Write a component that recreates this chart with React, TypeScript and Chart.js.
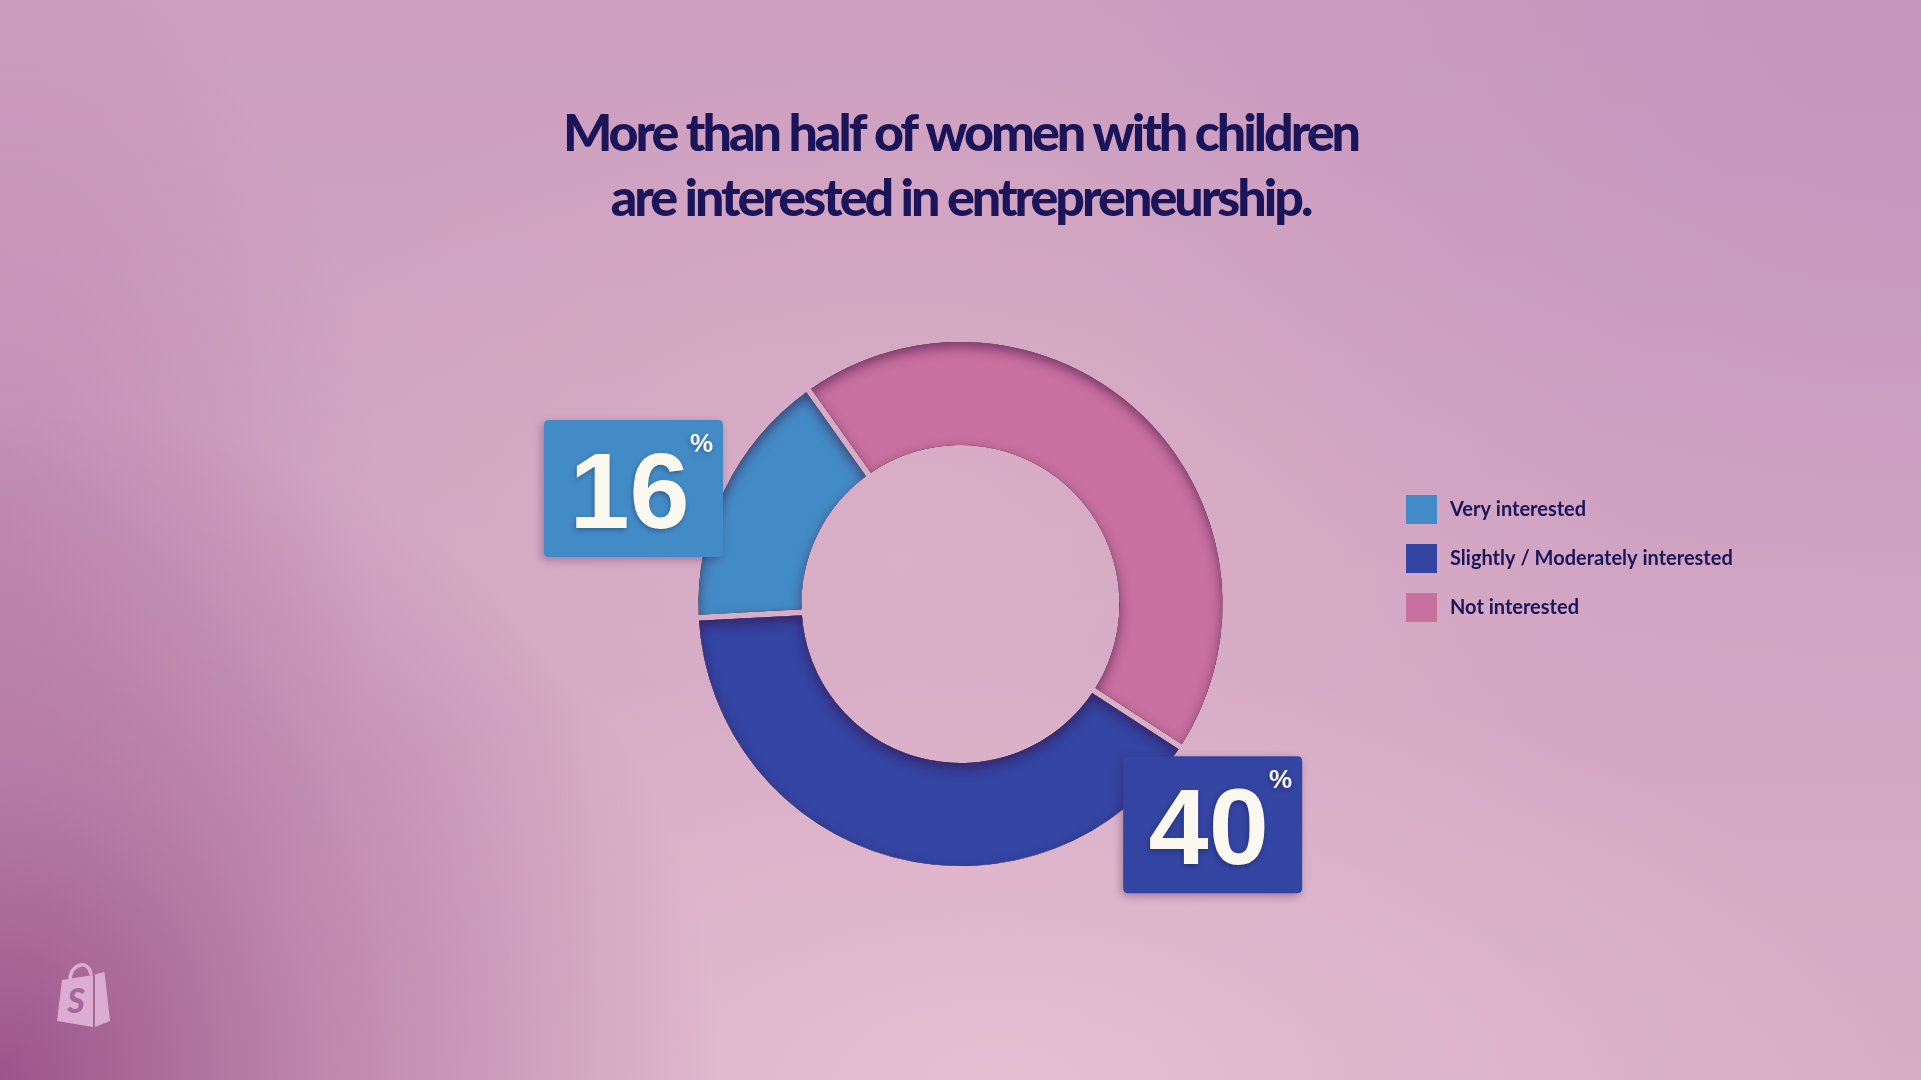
import React, { useEffect, useRef } from "react";
import { Chart, registerables } from "chart.js";

Chart.register(...registerables);

// ---- data ----
const titleLines = ["More than half of women with children", "are interested in entrepreneurship."];
const categories = ["Very interested", "Slightly / Moderately interested", "Not interested"];
const shares = [16, 40, 44];
const sliceColors = ["#438bc6", "#3344a2", "#c8709f"];
// clockwise order in which the slices sit around the ring
const ringOrder = [0, 2, 1];
// categories that get a value box
const calloutCategories = [0, 1];

// ---- styling / placement ----
const W = 1921;
const H = 1080;
const NAVY = "#1b1459";
const GAP = 6;
const calloutPlacement: Record<number, { along: number; reach: number; color: string }> = {
  0: { along: 0.39, reach: 1.3237, color: "#438bc6" },
  1: { along: 0.057, reach: 1.2794, color: "#3344a2" },
};

function ringShape(ctx: CanvasRenderingContext2D, el: any, inset: number) {
  const { x, y, startAngle, endAngle, innerRadius, outerRadius } = el;
  const ao = Math.asin(Math.min(1, inset / outerRadius));
  const ai = Math.asin(Math.min(1, inset / innerRadius));
  ctx.moveTo(x + outerRadius * Math.cos(startAngle + ao), y + outerRadius * Math.sin(startAngle + ao));
  ctx.arc(x, y, outerRadius, startAngle + ao, endAngle - ao);
  ctx.arc(x, y, innerRadius, endAngle - ai, startAngle + ai, true);
  ctx.closePath();
}

function roundRect(ctx: CanvasRenderingContext2D, x: number, y: number, w: number, h: number, r: number) {
  ctx.moveTo(x + r, y);
  ctx.lineTo(x + w - r, y);
  ctx.quadraticCurveTo(x + w, y, x + w, y + r);
  ctx.lineTo(x + w, y + h - r);
  ctx.quadraticCurveTo(x + w, y + h, x + w - r, y + h);
  ctx.lineTo(x + r, y + h);
  ctx.quadraticCurveTo(x, y + h, x, y + h - r);
  ctx.lineTo(x, y + r);
  ctx.quadraticCurveTo(x, y, x + r, y);
  ctx.closePath();
}

const decorPlugin = {
  id: "decor",
  beforeDraw(chart: any) {
    (chart.ctx as any).letterSpacing = "-3px";
  },
  beforeDatasetsDraw(chart: any) {
    (chart.ctx as any).letterSpacing = "0px";
  },
  afterDatasetsDraw(chart: any) {
    const ctx: CanvasRenderingContext2D = chart.ctx;
    const meta = chart.getDatasetMeta(0);
    const arcs = meta.data as any[];
    // cut gaps between slices
    ctx.save();
    ctx.globalCompositeOperation = "destination-out";
    ctx.lineWidth = GAP;
    ctx.strokeStyle = "#000";
    arcs.forEach((el) => {
      const a = el.startAngle;
      ctx.beginPath();
      ctx.moveTo(el.x + (el.innerRadius - 3) * Math.cos(a), el.y + (el.innerRadius - 3) * Math.sin(a));
      ctx.lineTo(el.x + (el.outerRadius + 3) * Math.cos(a), el.y + (el.outerRadius + 3) * Math.sin(a));
      ctx.stroke();
    });
    ctx.restore();
    // inset shadow
    arcs.forEach((el) => {
      ctx.save();
      ctx.beginPath();
      ringShape(ctx, el, GAP / 2);
      ctx.clip();
      ctx.beginPath();
      ctx.rect(0, 0, W, H);
      ringShape(ctx, el, GAP / 2);
      ctx.shadowColor = "rgba(60,10,60,0.55)";
      ctx.shadowBlur = 12;
      ctx.shadowOffsetY = 5;
      ctx.fillStyle = "#000";
      ctx.fill("evenodd");
      ctx.restore();
    });
    // value boxes
    calloutCategories.forEach((c) => {
      const j = ringOrder.indexOf(c);
      const el = arcs[j];
      const p = calloutPlacement[c];
      const ang = el.startAngle + p.along * (el.endAngle - el.startAngle);
      const d = el.outerRadius * p.reach;
      const cx = el.x + d * Math.cos(ang);
      const cy = el.y + d * Math.sin(ang);
      const bw = 179;
      const bh = 137;
      const left = cx - bw / 2;
      const top = cy - bh / 2;
      ctx.save();
      ctx.shadowColor = "rgba(70,20,70,0.35)";
      ctx.shadowBlur = 8;
      ctx.shadowOffsetX = -2;
      ctx.shadowOffsetY = 3;
      ctx.beginPath();
      roundRect(ctx, left, top, bw, bh, 5);
      ctx.fillStyle = p.color;
      ctx.fill();
      ctx.restore();
      ctx.save();
      ctx.fillStyle = "#fbf8ef";
      ctx.shadowColor = "rgba(0,0,30,0.3)";
      ctx.shadowBlur = 5;
      ctx.shadowOffsetX = -1;
      ctx.shadowOffsetY = 2;
      ctx.textAlign = "center";
      ctx.textBaseline = "alphabetic";
      ctx.font = "bold 108px 'Liberation Sans'";
      ctx.fillText(String(shares[c]), cx - 4, top + 108);
      ctx.textAlign = "right";
      ctx.font = "bold 26px 'Liberation Sans'";
      ctx.fillText("%", left + bw - 10, top + 32);
      ctx.restore();
    });
  },
  afterDraw(chart: any) {
    const ctx: CanvasRenderingContext2D = chart.ctx;
    const ds = chart.data.datasets[0];
    // legend
    ctx.save();
    const lx = 1406;
    const ly = 495;
    categories.forEach((label, i) => {
      const j = ringOrder.indexOf(i);
      const y = ly + i * 49;
      ctx.fillStyle = ds.backgroundColor[j];
      ctx.fillRect(lx, y, 31, 29);
      ctx.fillStyle = NAVY;
      ctx.font = "bold 20px Lato";
      ctx.textAlign = "left";
      ctx.textBaseline = "middle";
      ctx.fillText(label, lx + 44, y + 15);
    });
    ctx.restore();
    // bag logo
    ctx.save();
    const bag = "#dcadd3";
    ctx.fillStyle = bag;
    ctx.beginPath();
    ctx.moveTo(62, 980);
    ctx.lineTo(93, 975);
    ctx.lineTo(93, 1027);
    ctx.lineTo(57, 1021);
    ctx.closePath();
    ctx.fill();
    ctx.beginPath();
    ctx.moveTo(95, 974.5);
    ctx.lineTo(104.5, 972);
    ctx.lineTo(110, 1021);
    ctx.lineTo(95, 1027);
    ctx.closePath();
    ctx.fill();
    ctx.strokeStyle = bag;
    ctx.lineWidth = 3.5;
    ctx.beginPath();
    ctx.moveTo(70, 981);
    ctx.bezierCurveTo(69, 964, 89, 958, 91, 975);
    ctx.stroke();
    ctx.fillStyle = "#a6679a";
    ctx.font = "italic 900 34px Lato";
    ctx.textAlign = "center";
    ctx.textBaseline = "middle";
    ctx.fillText("S", 76, 1002);
    ctx.restore();
  },
};

export default function App() {
  const ref = useRef<HTMLCanvasElement | null>(null);
  useEffect(() => {
    if (!ref.current) return;
    const chart = new Chart(ref.current, {
      type: "doughnut",
      data: {
        labels: ringOrder.map((i) => categories[i]),
        datasets: [
          {
            data: ringOrder.map((i) => shares[i]),
            backgroundColor: ringOrder.map((i) => sliceColors[i]),
            borderWidth: 0,
          },
        ],
      },
      options: {
        animation: false,
        responsive: true,
        maintainAspectRatio: false,
        rotation: 267,
        radius: 262,
        cutout: "60.7%",
        layout: { padding: { top: 0, bottom: 124, left: 0, right: 0 } },
        plugins: {
          legend: { display: false },
          tooltip: { enabled: false },
          title: {
            display: true,
            text: titleLines,
            color: NAVY,
            font: { family: "Lato", size: 52, weight: 900 as any, lineHeight: 1.25 },
            padding: { top: 102, bottom: 20 },
          },
        },
      },
      plugins: [decorPlugin],
    });
    return () => chart.destroy();
  }, []);

  return (
    <div
      style={{
        position: "fixed",
        left: 0,
        top: 0,
        width: W,
        height: H,
        overflow: "hidden",
        background: [
          "radial-gradient(ellipse 720px 680px at 0px 1080px, rgba(150,75,132,0.9), rgba(150,75,132,0.4) 45%, rgba(150,75,132,0) 100%)",
          "radial-gradient(ellipse 380px 600px at 0px 520px, rgba(178,118,166,0.45), rgba(178,118,166,0))",
          "radial-gradient(ellipse 900px 430px at 1000px 1080px, rgba(230,193,211,0.9), rgba(230,193,211,0))",
          "radial-gradient(ellipse 900px 720px at 1921px 0px, rgba(194,144,192,0.7), rgba(194,144,192,0))",
          "radial-gradient(ellipse 720px 520px at 900px 560px, rgba(221,178,200,0.7), rgba(221,178,200,0))",
          "linear-gradient(180deg, #cd9ebf 0%, #d3a7c4 60%, #d7acc7 100%)",
        ].join(","),
      }}
    >
      <canvas ref={ref} style={{ width: W, height: H, display: "block" }} />
    </div>
  );
}
